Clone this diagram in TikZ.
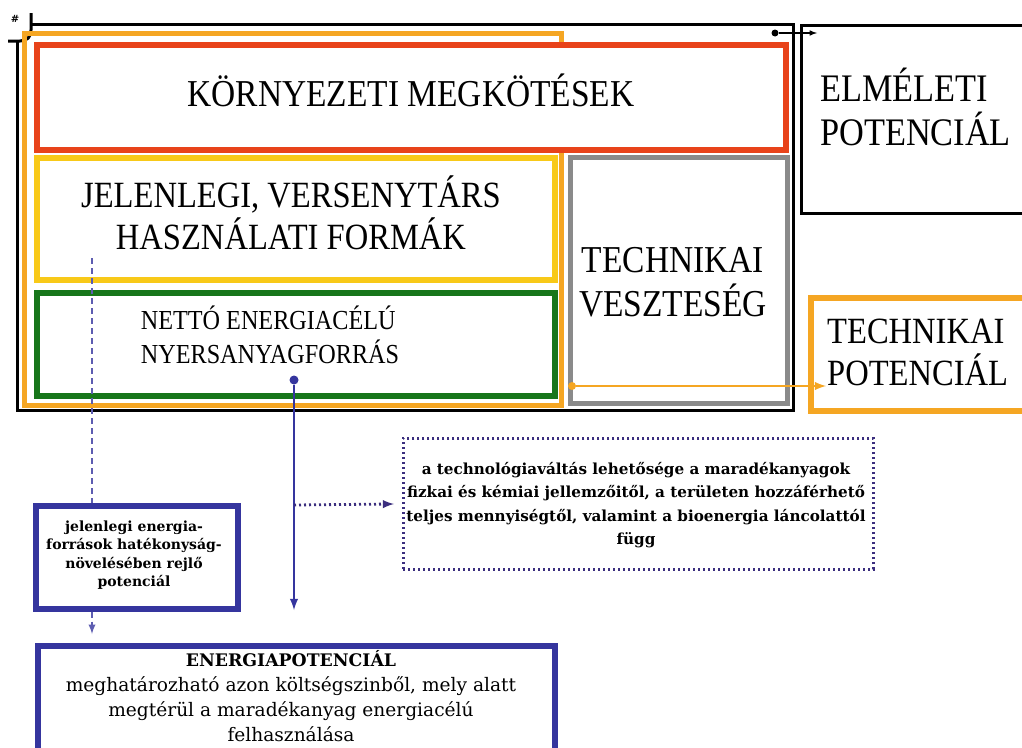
\documentclass[tikz,border=0pt]{standalone}
\usepackage{fontspec}
\setmainfont{DejaVu Serif}
\newfontfamily\capsfont{Liberation Serif}[FakeStretch=0.88]
\usetikzlibrary{arrows}

\definecolor{kred}{HTML}{E8431A}
\definecolor{korange}{HTML}{F5A623}
\definecolor{kyellow}{HTML}{F8C918}
\definecolor{kgreen}{HTML}{17761A}
\definecolor{kgray}{HTML}{8A8A8A}
\definecolor{kblue}{HTML}{35359E}
\definecolor{kpurple}{HTML}{3B2E7E}

\tikzset{ %inner sep = 0,
  >=latex,
  {frame/.style} ={draw, inner sep=0, anchor=north west},
  {filled frame/.style} ={frame, fill=white},
  {red frame/.style} ={filled frame, draw=kred, line width=5.5pt},
  {yellow frame/.style} ={filled frame, draw=kyellow, line width=5.5pt},
  {green frame/.style} ={filled frame, draw=kgreen, line width=5.5pt},
  {gray frame/.style} ={filled frame, draw=kgray, line width=4.5pt},
  {blue frame/.style} ={filled frame, draw=kblue, line width=5.5pt},
  {black line/.style} ={draw, line width=3pt, black},
  {big caps/.style} ={inner sep=0, align=center,
                      font=\capsfont\fontsize{37}{42}\selectfont},
  {dot/.style} ={circle, fill=#1, inner sep=0, minimum size=8pt},
  {blue arrow/.style} ={->, draw=kblue, line width=2.8pt},
  {dotted link/.style} ={->, draw=kpurple, line width=2.8pt,
                         dash pattern=on 2pt off 3pt},
  {dashed link/.style} ={draw=kblue!80, line width=2.2pt,
                         dash pattern=on 6pt off 4pt},
}

\begin{document}
\begin{tikzpicture}[x=1pt,y=-1pt]
\useasboundingbox (0,0) rectangle (1022,747);

% elmeleti potencial
\path[black line] (8,41) -- (20,41) .. controls (27,41) and (31,37) .. (31,30)
   -- (31,13);
\node[inner sep=0, font=\bfseries\itshape\fontsize{10}{10}\selectfont] (hash) at (15,19) {\#};
\path[black line] (17,41) -- (17,410) -- (793,410) -- (793,24) -- (31,24);
\node[frame, draw=black, line width=3pt, minimum width=240, minimum height=188]
  (elmeleti) at (800,24) {};
\node[big caps, anchor=west, align=left, font=\capsfont\fontsize{39}{44}\selectfont]
  (elmeletitext) at (820,107) {ELMÉLETI\\POTENCIÁL};

% technikai potencial
\draw[draw=korange, line width=5pt] (24,33) rectangle (561,405);
\node[red frame, minimum width=749, minimum height=105] (kornyezet) at (34,42) {};
\node[big caps, anchor=base, font=\capsfont\fontsize{38}{44}\selectfont]
  (kornyezettext) at (411,106) {KÖRNYEZETI MEGKÖTÉSEK};
\node[yellow frame, minimum width=518, minimum height=122] (jelenlegi) at (34,155) {};
\node[big caps] (jelenlegitext) at (291,213) {JELENLEGI, VERSENYTÁRS\\HASZNÁLATI FORMÁK};
\node[green frame, minimum width=518, minimum height=103] (netto) at (34,290) {};
\node[big caps, align=left, font=\capsfont\fontsize{27.5}{34}\selectfont]
  (nettotext) at (270,335) {NETTÓ ENERGIACÉLÚ\\NYERSANYAGFORRÁS};
\node[gray frame, minimum width=217, minimum height=246] (veszteseg) at (568,155) {};
\node[big caps, font=\capsfont\fontsize{38}{44}\selectfont]
  (vesztesegtext) at (673,282) {TECHNIKAI\\VESZTESÉG};
\node[frame, draw=korange, line width=5.5pt, minimum width=240, minimum height=113]
  (technikai) at (808,295) {};
\node[big caps, anchor=west, align=left] (technikaitext) at (827,352)
  {TECHNIKAI\\POTENCIÁL};

% connectors
\node[dot=black, minimum size=7pt] (topdot) at (775,33) {};
\coordinate (toptip) at (817,33);
\draw[->, line width=1.5pt] (topdot) -- (toptip);
\node[dot=korange] (orangedot) at (572,386) {};
\coordinate (orangetip) at (826,386);
\draw[->, draw=korange, line width=2.8pt] (orangedot) -- (orangetip);

% energiapotencial
\node[frame, draw=kpurple, line width=2.8pt, dash pattern=on 2pt off 3pt,
  minimum width=470, minimum height=131] (valtas) at (402,437) {};
\node[inner sep=0, align=center, font=\bfseries\fontsize{15.2}{23.5}\selectfont]
  (valtastext) at (636,505) {a technológiaváltás lehetősége a maradékanyagok\\
  fizkai és kémiai jellemzőitől, a területen hozzáférhető\\
  teljes mennyiségtől, valamint a bioenergia láncolattól\\függ};
\node[blue frame, minimum width=202, minimum height=103] (hatekonysag) at (33,503) {};
\node[inner sep=0, align=center, font=\bfseries\fontsize{14}{18.5}\selectfont]
  (hatekonysagtext) at (134,555) {jelenlegi energia-\\források hatékonyság-\\
  növelésében rejlő\\potenciál};
\node[blue frame, minimum width=517, minimum height=130] (energia) at (35,643) {};
\node[inner sep=0, align=center, font=\fontsize{18.6}{25}\selectfont]
  (energiatext) at (291,696) {{\bfseries\fontsize{17.3}{25}\selectfont ENERGIAPOTENCIÁL}\\
  meghatározható azon költségszinből, mely alatt\\
  megtérül a maradékanyag energiacélú\\felhasználása};

\node[dot=kblue, minimum size=9pt] (bluedot) at (294,380) {};
\coordinate (bluetip) at (294,610);
\coordinate (bluefork) at (294,505);
\draw[blue arrow] (bluedot) -- (bluetip);
\draw[dotted link, shorten >=8pt] (bluefork) -- (valtas.west);
\coordinate (dashtop) at (92,258);
\draw[dashed link] (dashtop) -- (dashtop |- hatekonysag.north);
\draw[dashed link, ->, shorten >=9pt] (dashtop |- hatekonysag.south)
  -- (dashtop |- energia.north);
\end{tikzpicture}
\end{document}
